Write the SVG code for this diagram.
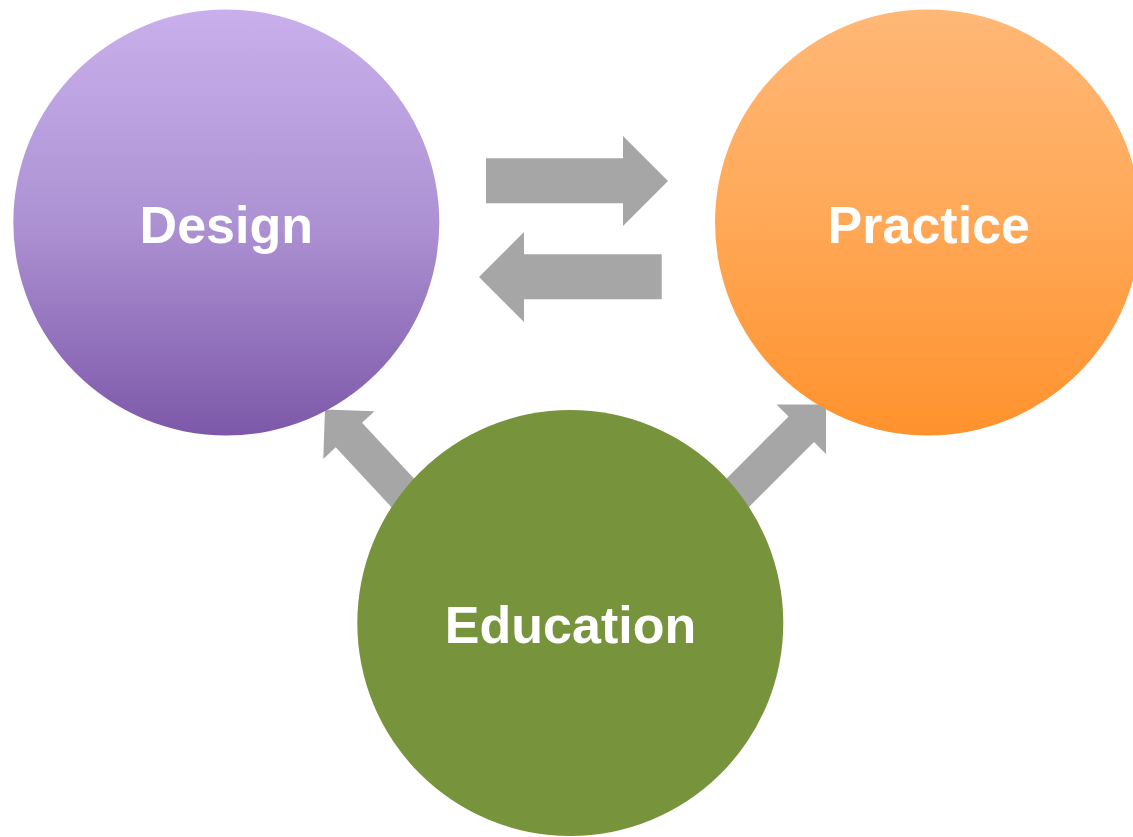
<svg xmlns="http://www.w3.org/2000/svg" width="1133" height="837" viewBox="0 0 1133 837">
  <defs>
    <linearGradient id="gDesign" x1="0" y1="0" x2="0" y2="1">
      <stop offset="0" stop-color="#C9B0EC"/>
      <stop offset="0.5" stop-color="#AD92D3"/>
      <stop offset="1" stop-color="#7D58A9"/>
    </linearGradient>
    <linearGradient id="gPractice" x1="0" y1="0" x2="0" y2="1">
      <stop offset="0" stop-color="#FFB877"/>
      <stop offset="0.5" stop-color="#FFA857"/>
      <stop offset="1" stop-color="#FF922D"/>
    </linearGradient>
    <path id="diagArrow" d="M0,0 L-35,-35 L-35,-18 L-160,-18 L-160,18 L-35,18 L-35,35 Z"/>
  </defs>
  <style>
    .arrow { fill: #A6A6A6; }
    .label { font-family: "Liberation Sans", Arial, sans-serif; font-weight: bold; font-size: 52px; fill: #FFFFFF; text-anchor: middle; }
  </style>
  <rect width="1133" height="837" fill="#FFFFFF"/>
  <g id="connectors">
    <polygon class="arrow" points="486,158.3 623,158.3 623,136 668,181 623,226 623,203.3 486,203.3"/>
    <polygon class="arrow" points="661.7,254.3 524,254.3 524,232 479,277 524,322 524,299.3 661.7,299.3"/>
    <use href="#diagArrow" class="arrow" transform="translate(325,409.5) rotate(-133)"/>
    <use href="#diagArrow" class="arrow" transform="translate(826,404.5) rotate(-45)"/>
  </g>
  <g id="design">
    <circle cx="226.3" cy="222.5" r="213" fill="url(#gDesign)"/>
    <text class="label" x="226.3" y="242.7">Design</text>
  </g>
  <g id="practice">
    <circle cx="928" cy="222.5" r="213" fill="url(#gPractice)"/>
    <text class="label" x="928.8" y="242.7">Practice</text>
  </g>
  <g id="education">
    <circle cx="570.3" cy="623" r="213" fill="#77943D"/>
    <text class="label" x="570.5" y="642.7">Education</text>
  </g>
</svg>
